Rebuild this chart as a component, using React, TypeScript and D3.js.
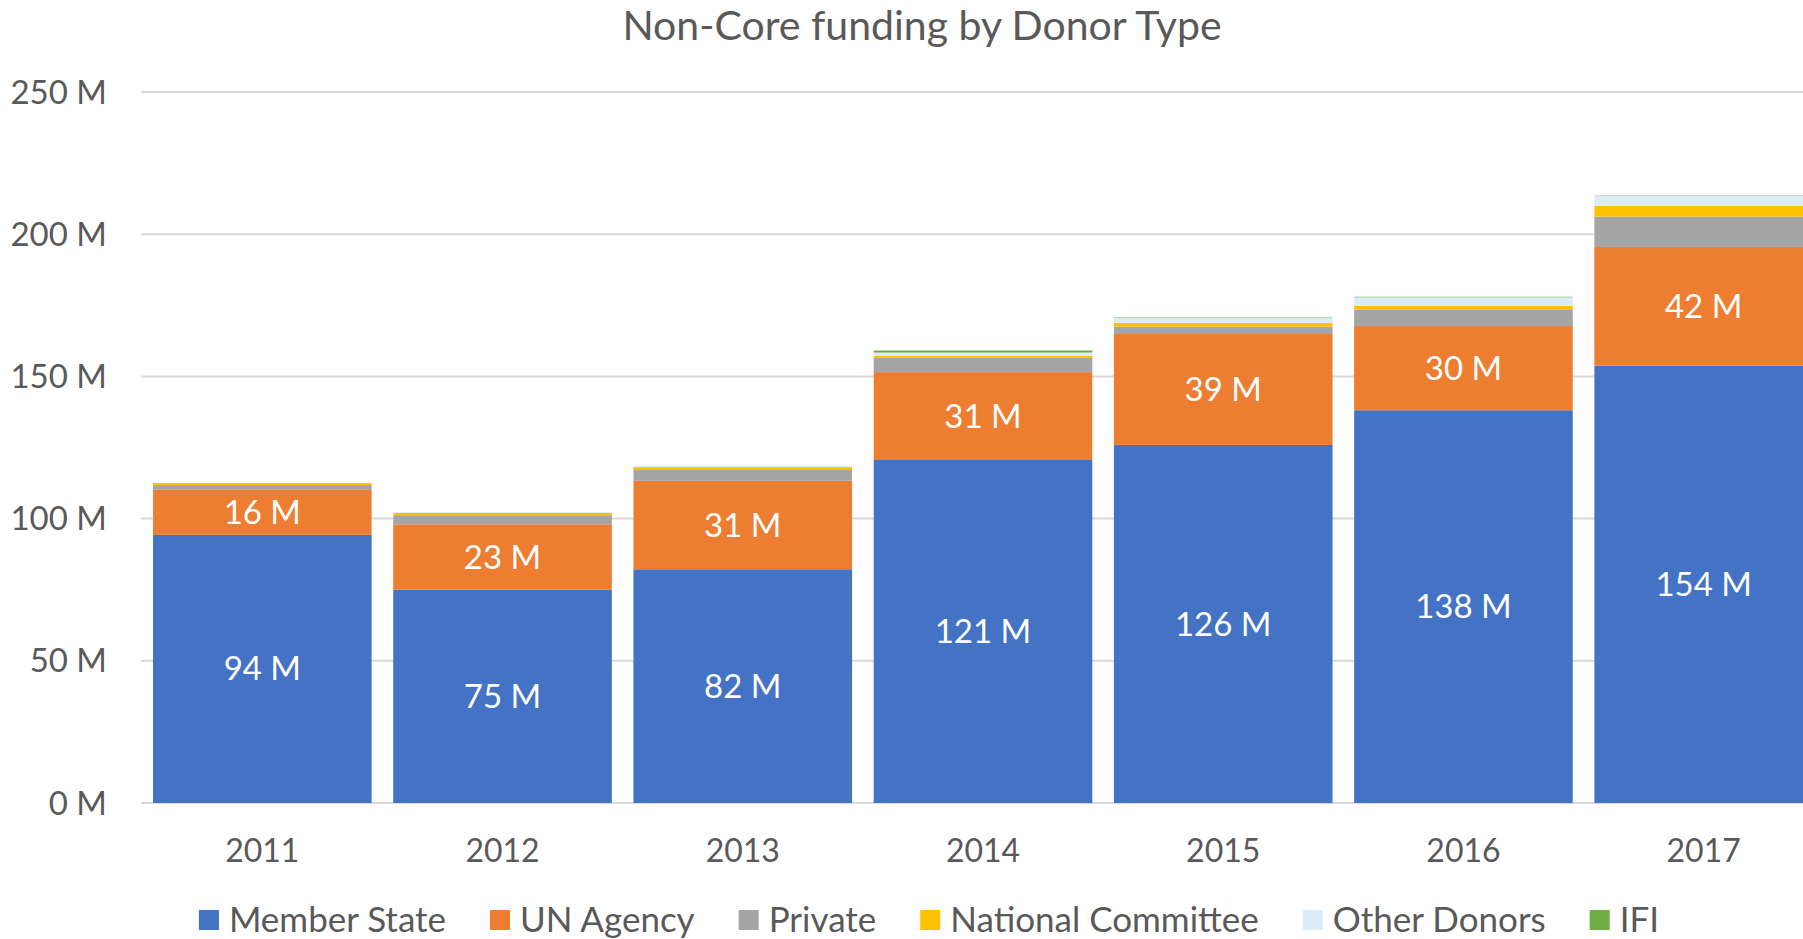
import React, { useEffect, useRef } from "react";
import * as d3 from "d3";

const years = ["2011", "2012", "2013", "2014", "2015", "2016", "2017"];
const memberState = [94.3, 75.0, 82.2, 120.6, 125.9, 138.1, 153.8];
const unAgency = [15.8, 23.0, 31.1, 30.9, 39.0, 29.6, 41.7];
const privateDonors = [1.7, 3.2, 3.8, 5.0, 2.6, 5.7, 10.7];
const nationalCommittee = [0.7, 0.8, 1.0, 0.8, 1.3, 1.4, 3.8];
const otherDonors = [0.0, 0.3, 0.4, 1.1, 1.7, 3.0, 3.6];
const ifi = [0.0, 0.0, 0.0, 0.7, 0.2, 0.2, 0.1];
const yTicks = [0, 50, 100, 150, 200, 250];

const seriesNames = ["Member State", "UN Agency", "Private", "National Committee", "Other Donors", "IFI"];
const seriesValues = [memberState, unAgency, privateDonors, nationalCommittee, otherDonors, ifi];
const seriesColors = ["#4472C4", "#ED7D31", "#A5A5A5", "#FFC000", "#DDEBF7", "#70AD47"];
const labelledSeries = [0, 1];

const W = 1803;
const H = 939;
const FONT = "Lato, 'Open Sans', sans-serif";
const TEXT = "#595959";

export default function App() {
  const ref = useRef<SVGSVGElement>(null);

  useEffect(() => {
    document.body.style.margin = "0";
    const svg = d3.select(ref.current);
    svg.selectAll("*").remove();

    const x0 = 141;
    const x1 = 1825;
    const yScale = d3.scaleLinear().domain([0, 250]).range([803, 92]);
    const xScale = d3.scaleBand().domain(years).range([x0, x1]).paddingInner(0.09).paddingOuter(0.05);

    const rows = years.map((yr, i) => {
      const r: any = { year: yr };
      seriesNames.forEach((s, k) => (r[s] = seriesValues[k][i]));
      return r;
    });
    const stack = d3.stack().keys(seriesNames)(rows);

    // gridlines
    svg
      .append("g")
      .selectAll("line")
      .data(yTicks)
      .join("line")
      .attr("x1", x0)
      .attr("x2", W)
      .attr("y1", (d) => yScale(d))
      .attr("y2", (d) => yScale(d))
      .attr("stroke", "#D9D9D9")
      .attr("stroke-width", 2);

    // y tick labels
    svg
      .append("g")
      .selectAll("text")
      .data(yTicks)
      .join("text")
      .attr("x", 107)
      .attr("y", (d) => yScale(d))
      .attr("dy", "0.35em")
      .attr("text-anchor", "end")
      .attr("font-family", FONT)
      .attr("font-size", 33)
      .attr("fill", TEXT)
      .text((d) => `${d} M`);

    // bars
    const g = svg.append("g");
    stack.forEach((layer, k) => {
      g.append("g")
        .attr("fill", seriesColors[k])
        .selectAll("rect")
        .data(layer)
        .join("rect")
        .attr("x", (d: any) => xScale(d.data.year)!)
        .attr("width", xScale.bandwidth())
        .attr("y", (d) => yScale(d[1]))
        .attr("height", (d) => Math.max(0, yScale(d[0]) - yScale(d[1])));
    });

    // data labels
    labelledSeries.forEach((k) => {
      svg
        .append("g")
        .selectAll("text")
        .data(stack[k])
        .join("text")
        .attr("x", (d: any) => xScale(d.data.year)! + xScale.bandwidth() / 2)
        .attr("y", (d) => (yScale(d[0]) + yScale(d[1])) / 2)
        .attr("dy", "0.35em")
        .attr("text-anchor", "middle")
        .attr("font-family", FONT)
        .attr("font-size", 33)
        .attr("fill", "#FFFFFF")
        .text((d) => `${Math.round(d[1] - d[0])} M`);
    });

    // x labels
    svg
      .append("g")
      .selectAll("text")
      .data(years)
      .join("text")
      .attr("x", (d) => xScale(d)! + xScale.bandwidth() / 2)
      .attr("y", 851)
      .attr("dy", "0.35em")
      .attr("text-anchor", "middle")
      .attr("font-family", FONT)
      .attr("font-size", 32)
      .attr("fill", TEXT)
      .text((d) => d);

    // title
    svg
      .append("text")
      .attr("x", 922)
      .attr("y", 26)
      .attr("dy", "0.35em")
      .attr("text-anchor", "middle")
      .attr("font-family", FONT)
      .attr("font-size", 41)
      .attr("fill", TEXT)
      .text("Non-Core funding by Donor Type");

    // legend
    const legend = svg.append("g");
    const sq = 20;
    const gapSqText = 10;
    const gapItems = 44;
    const items = seriesNames.map((name, k) => {
      const gi = legend.append("g");
      gi.append("rect").attr("width", sq).attr("height", sq).attr("y", -sq / 2).attr("fill", seriesColors[k]);
      const t = gi
        .append("text")
        .attr("x", sq + gapSqText)
        .attr("dy", "0.35em")
        .attr("font-family", FONT)
        .attr("font-size", 35)
        .attr("fill", TEXT)
        .text(name);
      const w = (t.node() as SVGTextElement).getComputedTextLength();
      return { gi, w: sq + gapSqText + w };
    });
    const total = d3.sum(items, (d) => d.w) + gapItems * (items.length - 1);
    let cx = 929 - total / 2;
    items.forEach((it) => {
      it.gi.attr("transform", `translate(${cx},920)`);
      cx += it.w + gapItems;
    });
  }, []);

  return <svg ref={ref} width={W} height={H} style={{ display: "block", overflow: "hidden", background: "#fff" }} />;
}
